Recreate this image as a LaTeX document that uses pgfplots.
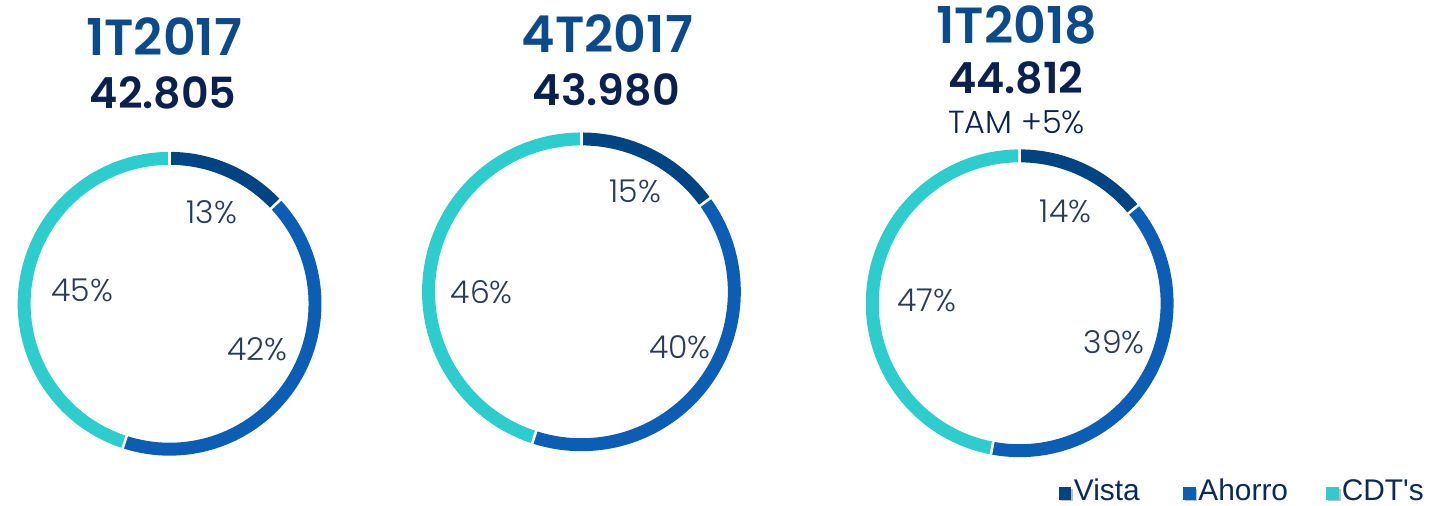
\documentclass[border=0pt]{standalone}
\usepackage{pgfplots}
\pgfplotsset{compat=1.18}
\usepackage{fontspec}
\setmainfont{Poppins}
\newfontfamily\plight{Poppins}[UprightFont=* Light]
\newfontfamily\psemi{Poppins}[UprightFont=* SemiBold]
\newfontfamily\arial{Liberation Sans}

\definecolor{cVista}{HTML}{004481}
\definecolor{cAhorro}{HTML}{0C5DB4}
\definecolor{cCDT}{HTML}{2DCCCD}
\definecolor{cTitle}{HTML}{0B4A8B}
\definecolor{cNum}{HTML}{0A2150}
\definecolor{cLbl}{HTML}{2B3A55}

% 1 px of the reference = 0.5pt
\newcommand{\sep}[4]{% cx, cy, radius, angle
  \draw[white, line width=1.3pt] (axis cs:#1,-#2) ++({#4}:{(#3-9)*0.5pt}) -- ++({#4}:9pt);}
% #1 cx, #2 cy (px, y down), #3 mid radius (px), #4 Vista %, #5 Ahorro %
\newcommand{\donut}[5]{%
  \draw[cVista, line width=6.5pt] (axis cs:#1,-#2) ++(90:{#3*0.5pt})
    arc[start angle=90, end angle={90-3.6*#4}, radius={#3*0.5pt}];
  \draw[cAhorro, line width=6.5pt] (axis cs:#1,-#2) ++({90-3.6*#4}:{#3*0.5pt})
    arc[start angle={90-3.6*#4}, end angle={90-3.6*(#4+#5)}, radius={#3*0.5pt}];
  \draw[cCDT, line width=6.5pt] (axis cs:#1,-#2) ++({90-3.6*(#4+#5)}:{#3*0.5pt})
    arc[start angle={90-3.6*(#4+#5)}, end angle=-270, radius={#3*0.5pt}];
  \sep{#1}{#2}{#3}{90}
  \sep{#1}{#2}{#3}{90-3.6*#4}
  \sep{#1}{#2}{#3}{90-3.6*(#4+#5)}
}
\newcommand{\legitem}[3]{% x, colour, text
  \fill[black!25] (axis cs:#1+1.5,-490.5) rectangle (axis cs:#1+14.5,-503.5);
  \fill[#2] (axis cs:#1,-489) rectangle (axis cs:#1+13,-502);
  \node[font=\arial\fontsize{15}{18}\selectfont, text=cNum!85!cAhorro, inner sep=0pt, anchor=base west]
    at (axis cs:#1+15,-503) {#3};
}

\begin{document}
\begin{tikzpicture}
\begin{axis}[
  width=721.5pt, height=254pt, scale only axis,
  xmin=0, xmax=1443, ymin=-508, ymax=0,
  hide axis, clip=false,
]
\path (axis cs:0,0) rectangle (axis cs:1443,-508);

% donuts: center, mid radius, Vista, Ahorro (CDT's = rest)
\donut{164.5}{305}{146}{13}{42}
\donut{578}{293}{153.5}{15}{40}
\donut{1018}{304.5}{148}{14}{39}

% percentage labels
\begin{scope}[every node/.style={font=\plight\fontsize{15.8}{19}\selectfont, text=cLbl, inner sep=0pt}]
\node at (axis cs:207,-213) {13\%};
\node at (axis cs:253,-351) {42\%};
\node at (axis cs:77,-292) {45\%};
\node at (axis cs:632,-192) {15\%};
\node at (axis cs:677,-349) {40\%};
\node at (axis cs:478,-293) {46\%};
\node at (axis cs:1064,-212) {14\%};
\node at (axis cs:1113,-344) {39\%};
\node at (axis cs:925,-302) {47\%};
\end{scope}

% titles
\begin{scope}[every node/.style={inner sep=0pt}]
\node[font=\psemi\fontsize{25.5}{29}\selectfont, text=cTitle] at (axis cs:159,-37) {1T2017};
\node[font=\psemi\fontsize{21.5}{25}\selectfont, text=cNum] at (axis cs:158,-93) {42.805};
\node[font=\psemi\fontsize{25.5}{29}\selectfont, text=cTitle] at (axis cs:604,-34) {4T2017};
\node[font=\psemi\fontsize{21.5}{25}\selectfont, text=cNum] at (axis cs:603,-90) {43.980};
\node[font=\psemi\fontsize{25.5}{29}\selectfont, text=cTitle] at (axis cs:1015,-25) {1T2018};
\node[font=\psemi\fontsize{21.5}{25}\selectfont, text=cNum] at (axis cs:1014,-78) {44.812};
\node[font=\plight\fontsize{16}{19}\selectfont, text=cNum] at (axis cs:1015,-123) {TAM +5\%};
\end{scope}

% legend
\legitem{1057}{cVista}{Vista}
\legitem{1182}{cAhorro}{Ahorro}
\legitem{1326}{cCDT}{CDT's}
\end{axis}
\end{tikzpicture}
\end{document}
